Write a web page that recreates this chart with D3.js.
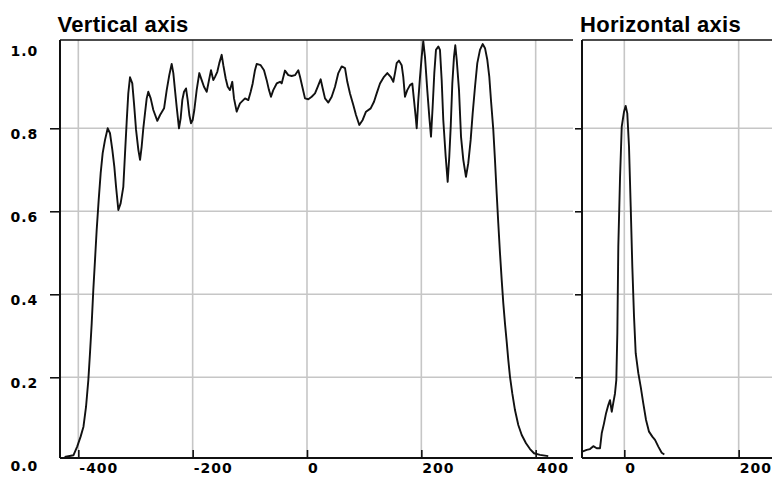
<!DOCTYPE html>
<html>
<head>
<meta charset="utf-8">
<script src="https://cdn.jsdelivr.net/npm/d3@7"></script>
<style>
  html, body { margin: 0; padding: 0; background: #fff; }
  svg { display: block; }
  .tick-label { font-family: "DejaVu Sans", sans-serif; font-weight: bold; font-size: 14px; letter-spacing: 1px; fill: #000; }
  .title { font-family: "Liberation Sans", Arial, sans-serif; font-weight: bold; font-size: 22px; letter-spacing: 0.3px; fill: #000; }
</style>
</head>
<body>
<svg id="chart" width="772" height="477"></svg>
<script>
// Profile along the vertical axis: position and normalised intensity
const vertPos = [
  -424, -408.6, -402, -396, -391, -386.5, -382.5, -379.6, -376.6, -373.8,
  -370.8, -367.9, -364.4, -360.9, -357.4, -353.3, -348.6, -344.6, -340.5, -337,
  -334, -330, -326, -321.3, -318.3, -315.4, -312.6, -309.6, -305.6, -302.6,
  -299, -295, -292, -289.2, -286.3, -283.4, -280.4, -277.6, -273.4, -268.8,
  -261.8, -257, -250, -245.4, -240.9, -236.7, -233.8, -230.9, -228, -223.9,
  -221, -218.1, -215.1, -211.6, -208.7, -205.8, -202.9, -200, -197.1, -193,
  -188.4, -184.2, -180.2, -175.4, -171.4, -167.9, -163.9, -160.9, -156.9, -153.4,
  -149.2, -146.4, -142.2, -138.7, -134.7, -130.7, -127.7, -123, -117.2, -108.4,
  -102.6, -98.5, -95, -91, -88, -81, -75.2, -70.5, -66.5, -63,
  -59, -53, -47.2, -44.3, -38.5, -32.7, -26.8, -21, -15.2, -12.2,
  -8.2, -3.5, 2.3, 8.2, 14, 18.7, 23.9, 27.5, 31.5, 37.3,
  43.2, 49, 54.8, 60.7, 66.5, 70.5, 75.2, 81, 85.7, 91.5,
  97.4, 103.2, 111.4, 117.2, 121.9, 127.7, 134.7, 140.5, 146.4, 151,
  153.9, 156.9, 160.9, 165.6, 168.4, 171.4, 175.4, 180.2, 184.2, 187.2,
  190.1, 191.9, 194.7, 197.7, 200.6, 203.4, 206.4, 210.4, 213.9, 216.9,
  219.8, 222.7, 225.6, 229.7, 232.6, 235.6, 238.4, 242.6, 246.1, 248.9,
  251.4, 254.2, 257.1, 259.4, 261.9, 265.9, 269.4, 273.4, 278.1, 282.1,
  286.3, 289.8, 293.9, 297.9, 302.6, 307.3, 311.4, 315.4, 318.9, 321.8,
  325.9, 328.8, 331.8, 334.6, 337.6, 340.6, 343.4, 346.3, 349.3, 352.1,
  355.1, 359.1, 363.8, 369.6, 375.6, 383.1, 390.1, 397.1, 407.6, 422
];
const vertVal = [
  0.008, 0.012, 0.033, 0.057, 0.081, 0.129, 0.193, 0.258, 0.330, 0.410,
  0.483, 0.555, 0.627, 0.692, 0.740, 0.772, 0.800, 0.788, 0.748, 0.707,
  0.659, 0.603, 0.619, 0.659, 0.740, 0.816, 0.884, 0.923, 0.908, 0.860,
  0.796, 0.748, 0.724, 0.756, 0.800, 0.836, 0.872, 0.888, 0.872, 0.844,
  0.818, 0.832, 0.848, 0.892, 0.928, 0.955, 0.933, 0.892, 0.852, 0.800,
  0.824, 0.868, 0.888, 0.896, 0.868, 0.832, 0.812, 0.820, 0.844, 0.892,
  0.933, 0.916, 0.900, 0.888, 0.916, 0.940, 0.916, 0.924, 0.936, 0.957,
  0.977, 0.952, 0.920, 0.900, 0.892, 0.912, 0.872, 0.840, 0.860, 0.872,
  0.868, 0.888, 0.908, 0.940, 0.955, 0.952, 0.940, 0.916, 0.892, 0.876,
  0.892, 0.908, 0.912, 0.908, 0.939, 0.928, 0.926, 0.928, 0.940, 0.924,
  0.900, 0.872, 0.870, 0.876, 0.884, 0.900, 0.918, 0.896, 0.872, 0.862,
  0.876, 0.900, 0.933, 0.949, 0.945, 0.912, 0.884, 0.856, 0.832, 0.808,
  0.820, 0.840, 0.848, 0.864, 0.884, 0.908, 0.924, 0.933, 0.924, 0.912,
  0.933, 0.957, 0.963, 0.952, 0.924, 0.876, 0.892, 0.904, 0.908, 0.868,
  0.828, 0.800, 0.868, 0.924, 0.972, 1.010, 0.972, 0.892, 0.828, 0.780,
  0.852, 0.933, 0.989, 0.997, 0.989, 0.916, 0.820, 0.732, 0.671, 0.732,
  0.804, 0.908, 0.972, 1.000, 0.965, 0.892, 0.780, 0.724, 0.683, 0.716,
  0.772, 0.836, 0.900, 0.957, 0.989, 1.003, 0.993, 0.965, 0.924, 0.868,
  0.796, 0.724, 0.643, 0.571, 0.499, 0.434, 0.378, 0.330, 0.286, 0.242,
  0.201, 0.161, 0.121, 0.085, 0.061, 0.041, 0.027, 0.017, 0.013, 0.010
];

// Profile along the horizontal axis
const horPos = [
  -73.5, -65.8, -60, -54.2, -48.3, -42.5, -39.5, -35.5, -32, -28,
  -25, -22, -19.2, -16.3, -14, -12.2, -10.5, -7.5, -4.5, -0.5,
  2.4, 5.2, 8.2, 11.2, 14, 17, 19.9, 24.5, 28.7, 33.2,
  38, 43.2, 49, 53.7, 59.5, 65.4, 70
];
const horVal = [
  0.021, 0.025, 0.027, 0.034, 0.029, 0.029, 0.065, 0.089, 0.113, 0.133,
  0.145, 0.117, 0.139, 0.161, 0.193, 0.306, 0.515, 0.680, 0.804, 0.840,
  0.854, 0.836, 0.756, 0.611, 0.467, 0.346, 0.258, 0.210, 0.177, 0.137,
  0.097, 0.069, 0.057, 0.049, 0.033, 0.018, 0.014
];

const yLabelTicks = [0, 0.2, 0.4, 0.6, 0.8, 1.0];
const yGridTicks = [0.2, 0.4, 0.6, 0.8];
const vertTicks = [-400, -200, 0, 200, 400];
const horTicks = [0, 200];
const titles = ["Vertical axis", "Horizontal axis"];

const svg = d3.select("#chart");
const plotTop = 40, plotBottom = 458;
const gridColor = "#c6c6c6";
const inkColor = "#111";

const y = d3.scaleLinear().domain([0.0055, 1.0127]).range([plotBottom, plotTop]);

const panels = [
  { id: "v", left: 60, right: 573, domain: [-432.05, 465.3], xs: vertPos, ys: vertVal,
    ticks: vertTicks, title: titles[0], titleX: 57.5, yLabels: true, yTickLen: 10 },
  { id: "h", left: 582, right: 772, domain: [-74.0, 258.3], xs: horPos, ys: horVal,
    ticks: horTicks, title: titles[1], titleX: 580, yLabels: false, yTickLen: 7 }
];

panels.forEach(p => {
  const x = d3.scaleLinear().domain(p.domain).range([p.left, p.right]);
  const g = svg.append("g");

  svg.append("clipPath").attr("id", "clip-" + p.id)
    .append("rect")
    .attr("x", p.left).attr("y", plotTop - 1)
    .attr("width", p.right - p.left).attr("height", plotBottom - plotTop + 2);

  // grid lines
  g.append("g").selectAll("line").data(yGridTicks).join("line")
    .attr("x1", p.left).attr("x2", p.right)
    .attr("y1", d => y(d)).attr("y2", d => y(d))
    .attr("stroke", gridColor).attr("stroke-width", 1.6);
  g.append("g").selectAll("line").data(p.ticks).join("line")
    .attr("x1", d => x(d)).attr("x2", d => x(d))
    .attr("y1", plotTop).attr("y2", plotBottom)
    .attr("stroke", gridColor).attr("stroke-width", 1.6);

  // profile curve
  const line = d3.line().x(d => x(d[0])).y(d => y(d[1]));
  g.append("path")
    .datum(d3.zip(p.xs, p.ys))
    .attr("clip-path", `url(#clip-${p.id})`)
    .attr("d", line)
    .attr("fill", "none")
    .attr("stroke", inkColor)
    .attr("stroke-width", 1.9)
    .attr("stroke-linejoin", "round");

  // top border
  g.append("line")
    .attr("x1", p.left).attr("x2", p.right)
    .attr("y1", plotTop).attr("y2", plotTop)
    .attr("stroke", inkColor).attr("stroke-width", 1.6);

  // left axis
  const yAxis = d3.axisLeft(y)
    .tickValues(p.yLabels ? yLabelTicks : yGridTicks)
    .tickSizeInner(p.yTickLen).tickSizeOuter(0)
    .tickFormat(p.yLabels ? d3.format(".1f") : () => "");
  const ya = g.append("g").attr("transform", `translate(${p.left},0)`).call(yAxis);
  ya.select(".domain").attr("stroke", inkColor).attr("stroke-width", 2)
    .attr("d", `M0,${plotTop}V${plotBottom}`);
  ya.selectAll(".tick line").attr("stroke", inkColor).attr("stroke-width", 1.6)
    .attr("display", d => (d === 0 || d === 1) ? "none" : null);
  ya.selectAll(".tick text")
    .attr("class", "tick-label")
    .attr("font-family", null).attr("font-size", null)
    .attr("text-anchor", "start")
    .attr("x", 10.5 - p.left)
    .attr("dy", null)
    .attr("y", 10.7);

  // bottom axis, ticks pointing inward
  const xAxis = d3.axisBottom(x)
    .tickValues(p.ticks)
    .tickSizeInner(-8).tickSizeOuter(0)
    .tickFormat(d => String(d));
  const xa = g.append("g").attr("transform", `translate(0,${plotBottom})`).call(xAxis);
  xa.select(".domain").attr("stroke", inkColor).attr("stroke-width", 2)
    .attr("d", `M${p.left},0H${p.right}`);
  xa.selectAll(".tick line").attr("stroke", inkColor).attr("stroke-width", 1.6);
  xa.selectAll(".tick text")
    .attr("class", "tick-label")
    .attr("font-family", null).attr("font-size", null)
    .attr("text-anchor", "start")
    .attr("x", 0.5)
    .attr("dy", null)
    .attr("y", 15);

  svg.append("text").attr("class", "title")
    .attr("x", p.titleX).attr("y", 32)
    .text(p.title);
});
</script>
</body>
</html>
